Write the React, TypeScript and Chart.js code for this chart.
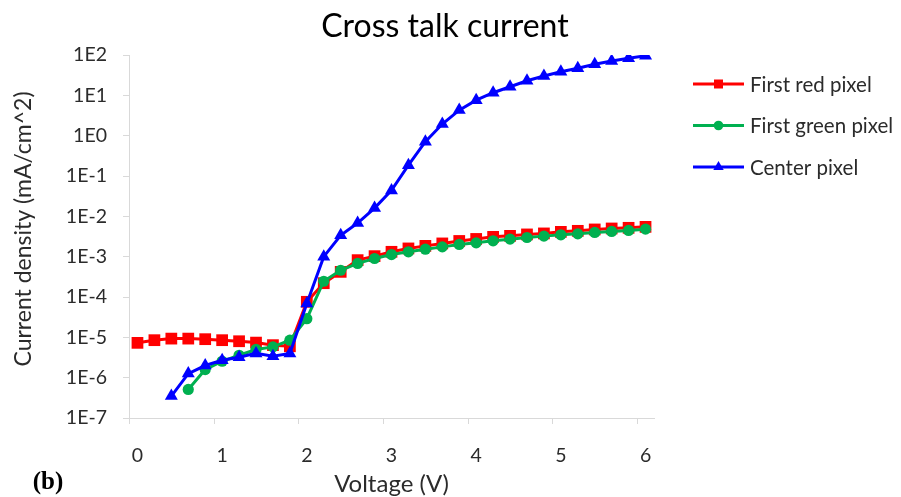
import { useEffect, useRef } from "react";
import { Chart, registerables } from "chart.js";

Chart.register(...registerables);

// Bias voltage (V), sampled every 0.2 V
const voltage = [
  0, 0.2, 0.4, 0.6, 0.8, 1.0, 1.2, 1.4, 1.6, 1.8,
  2.0, 2.2, 2.4, 2.6, 2.8, 3.0, 3.2, 3.4, 3.6, 3.8,
  4.0, 4.2, 4.4, 4.6, 4.8, 5.0, 5.2, 5.4, 5.6, 5.8, 6.0,
];

// Current density (mA/cm^2); null where a pixel was not measured
const firstRed = [
  7.3e-6, 8.5e-6, 9.3e-6, 9.3e-6, 9.0e-6, 8.5e-6, 8.0e-6, 7.4e-6, 6.4e-6, 6.0e-6,
  7.6e-5, 2.2e-4, 4.2e-4, 8.2e-4, 1.03e-3, 1.32e-3, 1.6e-3, 1.85e-3, 2.13e-3, 2.45e-3,
  2.75e-3, 3.1e-3, 3.28e-3, 3.56e-3, 3.77e-3, 4.12e-3, 4.37e-3, 4.73e-3, 5.0e-3, 5.19e-3, 5.48e-3,
];

const firstGreen = [
  null, null, null, 5.1e-7, 1.59e-6, 2.55e-6, 3.6e-6, 5.0e-6, 5.8e-6, 8.5e-6,
  2.9e-5, 2.46e-4, 4.6e-4, 6.8e-4, 9.0e-4, 1.13e-3, 1.32e-3, 1.53e-3, 1.75e-3, 2.01e-3,
  2.2e-3, 2.47e-3, 2.72e-3, 2.99e-3, 3.23e-3, 3.48e-3, 3.68e-3, 3.98e-3, 4.22e-3, 4.47e-3, 4.81e-3,
];

const centerPixel = [
  null, null, 3.5e-7, 1.26e-6, 2.0e-6, 2.7e-6, 3.2e-6, 4.0e-6, 3.4e-6, 4.0e-6,
  6.9e-5, 1.0e-3, 3.4e-3, 6.8e-3, 1.6e-2, 4.4e-2, 0.186, 0.71, 1.94, 4.3,
  7.6, 11.6, 16.3, 23.0, 30.2, 38.5, 46.8, 58.7, 71, 82.8, 96,
];

const seriesNames = ["First red pixel", "First green pixel", "Center pixel"];
const seriesColors = ["#FF0000", "#00B050", "#0000FF"];
const seriesStyles = ["rect", "circle", "triangle"];

const voltageTicks = [0, 1, 2, 3, 4, 5, 6];
const decades = [-7, -6, -5, -4, -3, -2, -1, 0, 1, 2];

const chartTitle = "Cross talk current";
const xTitle = "Voltage (V)";
const yTitle = "Current density (mA/cm^2)";
const panelTag = "(b)";

const FONT = "Lato, 'Open Sans', sans-serif";
const TEXT = "#2b2b2b";
const AXIS = "#D9D9D9";

function toPoints(values: (number | null)[]) {
  return voltage
    .map((v, i) => ({ x: v, y: values[i] }))
    .filter((p) => p.y !== null);
}

function legendMarker(ctx: CanvasRenderingContext2D, style: string, x: number, y: number) {
  ctx.beginPath();
  if (style === "rect") {
    ctx.rect(x - 4.5, y - 4.5, 9, 9);
  } else if (style === "circle") {
    ctx.arc(x, y, 4.8, 0, Math.PI * 2);
  } else {
    const r = 6;
    ctx.moveTo(x, y - r);
    ctx.lineTo(x + r * Math.sin((2 * Math.PI) / 3), y - r * Math.cos((2 * Math.PI) / 3));
    ctx.lineTo(x + r * Math.sin((4 * Math.PI) / 3), y - r * Math.cos((4 * Math.PI) / 3));
    ctx.closePath();
  }
  ctx.fill();
}

const decorPlugin = {
  id: "decor",
  afterDraw(chart: any) {
    const { ctx, chartArea, scales } = chart;
    const xs = scales.x;
    ctx.save();

    // x tick marks sit on the category boundaries, 0.1 V left of each label
    ctx.strokeStyle = AXIS;
    ctx.lineWidth = 1;
    voltageTicks.forEach((v) => {
      const px = Math.round(xs.getPixelForValue(v - 0.1)) + 0.5;
      ctx.beginPath();
      ctx.moveTo(px, chartArea.bottom);
      ctx.lineTo(px, chartArea.bottom + 6);
      ctx.stroke();
    });

    // chart title
    ctx.fillStyle = "#000000";
    ctx.textAlign = "center";
    ctx.textBaseline = "middle";
    ctx.font = `32px ${FONT}`;
    ctx.fillText(chartTitle, 445, 27);

    // axis titles
    ctx.fillStyle = TEXT;
    ctx.font = `24px ${FONT}`;
    ctx.fillText(xTitle, (chartArea.left + chartArea.right) / 2, 484);
    ctx.save();
    ctx.translate(24, 229);
    ctx.rotate(-Math.PI / 2);
    ctx.font = `23px ${FONT}`;
    ctx.fillText(yTitle, 0, 0);
    ctx.restore();

    // panel tag
    ctx.fillStyle = "#000000";
    ctx.font = `bold 25px 'Liberation Serif', serif`;
    ctx.fillText(panelTag, 48, 483);

    // legend
    ctx.textAlign = "left";
    ctx.font = `20.5px ${FONT}`;
    chart.data.datasets.forEach((ds: any, i: number) => {
      const y = 84 + i * 41.5;
      ctx.strokeStyle = ds.borderColor;
      ctx.fillStyle = ds.borderColor;
      ctx.lineWidth = 3;
      ctx.beginPath();
      ctx.moveTo(693, y);
      ctx.lineTo(744, y);
      ctx.stroke();
      legendMarker(ctx, ds.pointStyle, 718.5, y);
      ctx.fillStyle = TEXT;
      ctx.fillText(ds.label, 750, y + 1);
    });

    ctx.restore();
  },
};

export default function App() {
  const canvasRef = useRef<HTMLCanvasElement | null>(null);

  useEffect(() => {
    if (!canvasRef.current) return;
    const series = [firstRed, firstGreen, centerPixel];
    const pointRadius = [8.3, 5.6, 7.5];
    const chart = new Chart(canvasRef.current, {
      type: "line",
      data: {
        datasets: series.map((values, i) => ({
          label: seriesNames[i],
          data: toPoints(values),
          borderColor: seriesColors[i],
          backgroundColor: seriesColors[i],
          borderWidth: 3,
          pointStyle: seriesStyles[i],
          pointRadius: pointRadius[i],
          pointBorderWidth: 0,
          pointBackgroundColor: seriesColors[i],
          tension: 0,
          order: 3 - i,
        })),
      },
      options: {
        animation: false,
        responsive: false,
        devicePixelRatio: 1,
        layout: { padding: { top: 55, right: 247, bottom: 0, left: 0 } },
        plugins: {
          legend: { display: false },
          title: { display: false },
          tooltip: { enabled: false },
        },
        scales: {
          x: {
            type: "linear",
            min: -0.1,
            max: 6.1,
            afterBuildTicks: (s: any) => {
              s.ticks = voltageTicks.map((v) => ({ value: v }));
            },
            afterFit: (s: any) => {
              s.height = 79;
            },
            ticks: {
              autoSkip: false,
              maxRotation: 0,
              padding: 18,
              color: TEXT,
              font: { family: FONT, size: 19.5 },
              callback: (v: any) => String(v),
            },
            grid: { display: false },
            border: { display: true, color: AXIS, width: 1 },
          },
          y: {
            type: "logarithmic",
            min: 1e-7,
            max: 1e2,
            afterBuildTicks: (s: any) => {
              s.ticks = decades.map((e) => ({ value: Math.pow(10, e) }));
            },
            afterFit: (s: any) => {
              s.width = 129;
            },
            ticks: {
              autoSkip: false,
              padding: 16,
              color: TEXT,
              font: { family: FONT, size: 19.5 },
              callback: (v: any) => "1E" + Math.round(Math.log10(Number(v))),
            },
            grid: { drawOnChartArea: false, drawTicks: true, tickLength: 6, color: AXIS },
            border: { display: true, color: AXIS, width: 1 },
          },
        },
      },
      plugins: [decorPlugin],
    } as any);
    return () => chart.destroy();
  }, []);

  return (
    <div style={{ position: "absolute", left: 0, top: 0, width: 901, height: 497, background: "#ffffff" }}>
      <canvas ref={canvasRef} width={901} height={497} style={{ display: "block" }} />
    </div>
  );
}
